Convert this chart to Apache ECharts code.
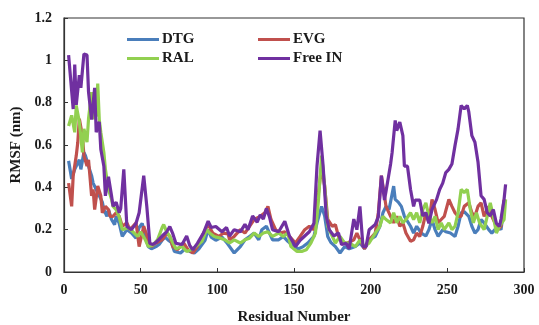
<!DOCTYPE html>
<html>
<head>
<meta charset="utf-8">
<script src="https://cdn.jsdelivr.net/npm/echarts@6/dist/echarts.min.js"></script>
<style>
  html, body { margin: 0; padding: 0; background: #fff; }
  #chart { width: 539px; height: 325px; }
</style>
</head>
<body>
<div id="chart"></div>
<script>
// residue numbers and RMSF (nm)
var dtgRes  = [3,5,7,8,10,11,13,14,16,18,19,21,23,25,26,28,29,31,33,34,36,38,41,44,47,49,51,53,55,57,60,62,64,66,68,70,72,76,79,82,85,88,92,94,96,99,103,106,108,111,115,118,121,124,127,129,132,134,136,140,143,146,150,153,156,159,163,165,168,170,172,174,177,180,183,186,190,193,196,199,203,206,208,210,212,215,216,218,220,222,226,228,230,233,236,238,240,242,244,247,249,252,255,257,259,261,264,266,268,270,272,274,277,279,281,283,285,287];
var dtgRmsf = [0.525,0.44,0.485,0.50,0.53,0.485,0.565,0.55,0.50,0.455,0.42,0.39,0.36,0.33,0.295,0.263,0.295,0.248,0.224,0.263,0.23,0.168,0.2,0.185,0.16,0.21,0.23,0.17,0.12,0.11,0.12,0.13,0.15,0.165,0.15,0.14,0.097,0.09,0.11,0.097,0.09,0.11,0.15,0.2,0.165,0.15,0.165,0.14,0.12,0.09,0.12,0.152,0.168,0.184,0.152,0.2,0.216,0.184,0.152,0.152,0.168,0.145,0.12,0.11,0.12,0.137,0.168,0.232,0.31,0.265,0.168,0.14,0.12,0.09,0.12,0.11,0.12,0.137,0.11,0.152,0.168,0.216,0.28,0.31,0.295,0.406,0.343,0.33,0.31,0.263,0.216,0.184,0.216,0.184,0.17,0.2,0.248,0.2,0.168,0.2,0.19,0.184,0.168,0.216,0.28,0.285,0.263,0.216,0.184,0.2,0.248,0.232,0.2,0.184,0.2,0.216,0.2,0.31];

var evgRes  = [3,5,6,8,9,10,12,13,15,16,18,19,20,22,24,25,27,29,30,32,34,36,38,41,43,45,47,49,51,52,55,57,60,64,67,69,71,74,78,81,84,87,91,94,97,101,104,107,108,111,115,118,121,124,128,131,133,135,138,141,144,147,151,154,157,160,163,166,168,170,172,175,177,179,182,185,189,191,193,196,199,203,205,207,209,210,213,215,217,219,221,223,226,228,230,232,234,236,238,240,242,244,246,248,251,253,255,257,259,261,264,266,268,270,272,274,277,279,281,283,285,287];
var evgRmsf = [0.42,0.31,0.455,0.55,0.613,0.724,0.644,0.55,0.5,0.53,0.36,0.39,0.295,0.406,0.36,0.28,0.31,0.295,0.263,0.263,0.28,0.263,0.216,0.232,0.2,0.216,0.232,0.12,0.184,0.216,0.152,0.12,0.137,0.152,0.184,0.168,0.12,0.105,0.137,0.105,0.09,0.12,0.184,0.224,0.184,0.168,0.184,0.18,0.152,0.168,0.2,0.184,0.216,0.248,0.263,0.28,0.31,0.248,0.2,0.184,0.19,0.168,0.137,0.168,0.2,0.216,0.2,0.375,0.50,0.406,0.248,0.216,0.224,0.168,0.137,0.137,0.152,0.184,0.152,0.11,0.152,0.184,0.28,0.455,0.36,0.31,0.263,0.232,0.263,0.216,0.232,0.184,0.145,0.152,0.184,0.168,0.216,0.28,0.232,0.343,0.295,0.232,0.248,0.263,0.343,0.31,0.28,0.263,0.263,0.31,0.327,0.28,0.263,0.31,0.327,0.263,0.31,0.263,0.232,0.2,0.216,0.343];

var ralRes  = [3,5,7,8,10,12,13,15,16,18,19,21,22,23,24,26,27,29,31,32,34,36,38,42,45,48,50,53,55,58,61,64,65,67,69,71,73,77,80,83,86,90,93,95,98,102,105,108,111,115,118,121,124,127,130,133,136,140,143,146,148,152,155,158,161,164,166,168,170,172,174,177,180,183,186,190,193,196,199,203,206,208,210,213,215,217,219,221,223,226,228,230,232,234,236,238,240,242,244,246,248,251,253,255,257,259,261,263,265,267,269,271,274,276,278,280,282,284,287,288];
var ralRmsf = [0.69,0.74,0.66,0.787,0.708,0.565,0.676,0.613,0.724,0.85,0.724,0.74,0.89,0.72,0.66,0.565,0.485,0.39,0.343,0.31,0.295,0.26,0.2,0.21,0.19,0.168,0.19,0.152,0.12,0.128,0.152,0.21,0.224,0.19,0.168,0.137,0.11,0.12,0.097,0.105,0.12,0.145,0.2,0.184,0.168,0.16,0.152,0.137,0.152,0.137,0.152,0.16,0.184,0.168,0.184,0.19,0.168,0.184,0.168,0.184,0.12,0.097,0.097,0.105,0.137,0.184,0.343,0.55,0.406,0.216,0.184,0.137,0.168,0.137,0.137,0.12,0.152,0.12,0.137,0.184,0.216,0.263,0.248,0.232,0.28,0.232,0.263,0.232,0.248,0.28,0.248,0.28,0.232,0.295,0.327,0.263,0.232,0.263,0.2,0.232,0.2,0.232,0.2,0.216,0.28,0.39,0.375,0.39,0.295,0.232,0.28,0.232,0.2,0.263,0.327,0.263,0.184,0.216,0.248,0.343];

var freeRes  = [3,6,7,8,10,11,13,15,16,18,20,21,23,24,26,27,29,31,32,34,36,37,39,41,44,47,49,52,54,56,58,60,64,67,69,71,73,77,80,82,84,87,91,94,96,99,103,106,108,111,115,118,120,123,126,128,130,132,134,136,140,142,144,147,151,154,157,160,163,165,167,169,171,173,176,179,181,184,186,189,191,193,195,197,199,203,205,207,209,210,213,214,216,217,219,221,222,224,226,228,229,232,234,236,238,240,243,245,247,249,251,253,255,257,259,261,263,264,266,268,270,272,274,276,278,280,282,284,285,287,288];
var freeRmsf = [1.025,0.77,0.98,0.79,0.93,0.87,1.03,1.025,0.85,0.72,0.87,0.66,0.71,0.58,0.50,0.36,0.45,0.36,0.31,0.33,0.28,0.3,0.485,0.215,0.2,0.23,0.28,0.455,0.31,0.135,0.13,0.14,0.17,0.19,0.215,0.18,0.135,0.13,0.17,0.125,0.105,0.135,0.185,0.24,0.21,0.215,0.19,0.21,0.17,0.2,0.19,0.225,0.2,0.265,0.235,0.27,0.25,0.30,0.26,0.2,0.19,0.215,0.24,0.17,0.12,0.15,0.17,0.19,0.23,0.5,0.668,0.5,0.265,0.2,0.17,0.185,0.13,0.135,0.11,0.25,0.2,0.31,0.12,0.12,0.2,0.225,0.26,0.455,0.34,0.38,0.51,0.565,0.716,0.668,0.708,0.644,0.5,0.5,0.39,0.31,0.34,0.34,0.265,0.28,0.23,0.295,0.343,0.39,0.42,0.47,0.485,0.51,0.597,0.676,0.787,0.77,0.787,0.756,0.644,0.613,0.52,0.36,0.343,0.28,0.265,0.295,0.23,0.215,0.25,0.343,0.414];

var xTicks = [0, 50, 100, 150, 200, 250, 300];
var yTicks = [0, 0.2, 0.4, 0.6, 0.8, 1, 1.2];

function pairs(xs, ys) {
    return xs.map(function (x, i) { return [x, ys[i]]; });
}

var font = 'Liberation Serif, Times New Roman, serif';
var ink = '#1a1a1a';

function mkSeries(name, xs, ys, color) {
    return {
        name: name,
        type: 'line',
        data: pairs(xs, ys),
        symbol: 'none',
        smooth: false,
        legendIcon: 'rect',
        lineStyle: { color: color, width: 3.2 },
        itemStyle: { color: color },
        animation: false
    };
}

function mkLegend(name, left, top) {
    return {
        data: [name],
        left: left,
        top: top,
        icon: 'rect',
        itemWidth: 32,
        itemHeight: 3,
        itemGap: 0,
        padding: 0,
        textStyle: { fontFamily: font, fontWeight: 'bold', fontSize: 15, color: ink, padding: [0, 0, 0, -2] },
        selectedMode: false
    };
}

var chart = echarts.init(document.getElementById('chart'));
chart.setOption({
    backgroundColor: '#fff',
    animation: false,
    grid: {
        left: 64, right: 15, top: 18, bottom: 53,
        outerBoundsMode: 'none',
        containLabel: false,
        show: true, borderColor: '#333', borderWidth: 1.2
    },
    legend: [
        mkLegend('DTG', 127, 32),
        mkLegend('EVG', 258, 32),
        mkLegend('RAL', 127, 51),
        mkLegend('Free IN', 258, 51)
    ],
    xAxis: {
        type: 'value',
        min: xTicks[0], max: xTicks[xTicks.length - 1], interval: 50,
        name: 'Residual Number',
        nameLocation: 'middle',
        nameGap: 38,
        nameTextStyle: { fontFamily: font, fontWeight: 'bold', fontSize: 15, color: ink },
        axisLine: { lineStyle: { color: '#333', width: 1.2 } },
        axisTick: { inside: true, length: 4, lineStyle: { color: '#333' } },
        axisLabel: { fontFamily: font, fontWeight: 'bold', fontSize: 14, color: ink, margin: 11 },
        splitLine: { show: false }
    },
    yAxis: {
        type: 'value',
        min: yTicks[0], max: yTicks[yTicks.length - 1], interval: 0.2,
        name: 'RMSF (nm)',
        nameLocation: 'middle',
        nameGap: 39,
        nameTextStyle: { fontFamily: font, fontWeight: 'bold', fontSize: 15, color: ink },
        axisLine: { show: true, lineStyle: { color: '#333', width: 1.2 } },
        axisTick: { show: true, inside: true, length: 4, lineStyle: { color: '#333' } },
        axisLabel: { fontFamily: font, fontWeight: 'bold', fontSize: 14, color: ink, margin: 12 },
        splitLine: { show: false }
    },
    series: [
        mkSeries('DTG', dtgRes, dtgRmsf, '#4a7ebb'),
        mkSeries('EVG', evgRes, evgRmsf, '#c0504d'),
        mkSeries('RAL', ralRes, ralRmsf, '#92d050'),
        mkSeries('Free IN', freeRes, freeRmsf, '#7030a0')
    ]
});
</script>
</body>
</html>
